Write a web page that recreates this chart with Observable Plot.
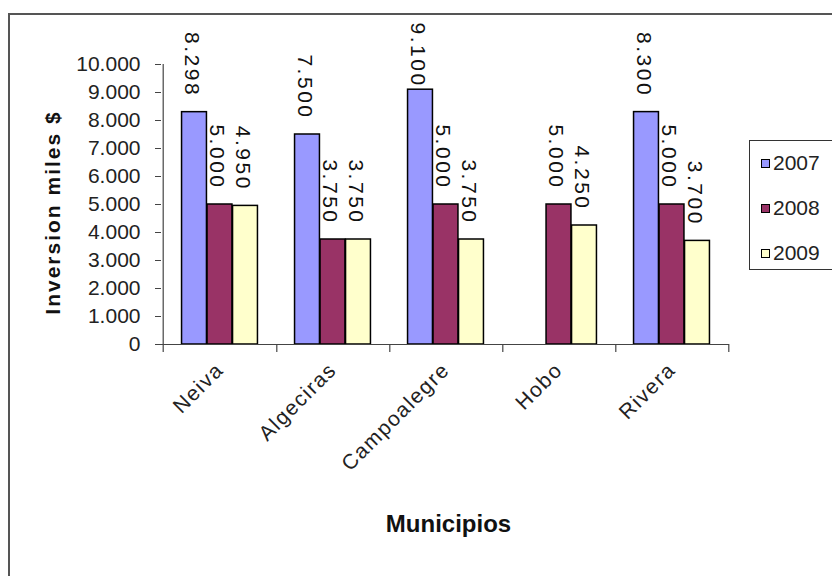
<!DOCTYPE html>
<html>
<head>
<meta charset="utf-8">
<script src="https://cdn.jsdelivr.net/npm/d3@7"></script>
<script src="https://cdn.jsdelivr.net/npm/@observablehq/plot@0.6"></script>
<style>
  html, body { margin: 0; padding: 0; background: #fff; }
  #wrap { position: relative; width: 832px; height: 576px; overflow: hidden; font-family: "Liberation Sans", Arial, sans-serif; }
  #frame { position: absolute; left: 8px; top: 13px; right: -20px; bottom: -20px; border-left: 2px solid #555; border-top: 2px solid #555; pointer-events: none; }
  #legend { position: absolute; left: 749px; top: 140px; width: 110px; height: 128px; border: 1.5px solid #333; background: #fff; }
  .item { position: absolute; left: 11px; height: 24px; display: flex; align-items: center; font-size: 21px; color: #222; }
  .sw { display: inline-block; width: 7px; height: 7px; border: 1.5px solid #000; margin-right: 3px; }
  g[aria-label="text"] text { letter-spacing: 2.5px; }
  g[aria-label="text"][font-weight="bold"] text { letter-spacing: 2px; }
  g[aria-label="text"][font-weight="bold"][font-size="24"] text { letter-spacing: 0px; }
  g[aria-label="x-axis tick label"] text { letter-spacing: 1.5px; }
</style>
</head>
<body>
<div id="wrap">
  <div id="chart"></div>
  <div id="frame"></div>
  <div id="legend"></div>
</div>
<script>
const municipios = ["Neiva", "Algeciras", "Campoalegre", "Hobo", "Rivera"];
const years = ["2007", "2008", "2009"];
const v2007 = [8298, 7500, 9100, null, 8300];
const v2008 = [5000, 3750, 5000, 5000, 5000];
const v2009 = [4950, 3750, 3750, 4250, 3700];
const yearColors = ["#9999FF", "#993366", "#FFFFCC"];
const yTicks = [0, 1000, 2000, 3000, 4000, 5000, 6000, 7000, 8000, 9000, 10000];
const xTitle = "Municipios";
const yTitle = "Inversion miles $";

const series = [v2007, v2008, v2009];
const rows = [];
years.forEach((yr, j) => {
  municipios.forEach((m, i) => {
    if (series[j][i] != null) rows.push({municipio: m, year: yr, value: series[j][i]});
  });
});

const loc = d3.formatLocale({decimal: ",", thousands: ".", grouping: [3], currency: ["$", ""]});
const fmt = loc.format(",");

const W = 832, H = 576;
const mL = 161, mR = 103, mT = 64, mB = 232;
const step = (W - mL - mR) / municipios.length;
const barW = 25.5;
const inset = (step - barW) / 2;
const offs = [-barW, 0, barW];
// labels that would run off the top of the chart are pushed down (as the spreadsheet does)
const labelCap = 8640;

const marks = [];
years.forEach((yr, j) => {
  const d = rows.filter(r => r.year === yr);
  marks.push(Plot.barY(d, {x: "municipio", y: "value", fill: yearColors[j], stroke: "#000", strokeWidth: 1.5,
    insetLeft: inset, insetRight: inset, dx: offs[j]}));
  marks.push(Plot.text(d, {x: "municipio", y: r => Math.min(r.value, labelCap), text: r => fmt(r.value), rotate: 90, textAnchor: "end",
    lineAnchor: "middle", dx: offs[j] - 3, dy: -15, fontSize: 21, fill: "#111"}));
});

const plot = Plot.plot({
  width: W, height: H,
  marginLeft: mL, marginRight: mR, marginTop: mT, marginBottom: mB,
  style: {fontFamily: "'Liberation Sans', Arial, sans-serif", background: "transparent", color: "#222"},
  x: {type: "band", domain: municipios, padding: 0, label: null, axis: null},
  y: {domain: [0, 10000], label: null, axis: null},
  marks: [
    ...marks,
    Plot.ruleY([0], {stroke: "#444", strokeWidth: 1.2}),
    Plot.ruleX([municipios[0]], {x: d => d, y1: () => 10000, y2: () => 0, dx: -step / 2, insetBottom: -8, stroke: "#444", strokeWidth: 1.2}),
    Plot.ruleX(municipios, {x: d => d, y: () => 0, dx: step / 2, insetBottom: -8, stroke: "#444", strokeWidth: 1.2}),
    Plot.axisY({ticks: yTicks, tickFormat: fmt, tickSize: 6, tickPadding: 15, fontSize: 21, stroke: "#444", label: null}),
    Plot.axisX({tickRotate: -45, tickSize: 0, tickPadding: 22, fontSize: 21, label: null}),
    Plot.text([xTitle], {text: d => d, frameAnchor: "bottom", textAnchor: "middle", dx: 3, dy: 187, fontWeight: "bold", fontSize: 24, fill: "#111"}),
    Plot.text([yTitle], {text: d => d, frameAnchor: "left", textAnchor: "middle", rotate: -90, dx: -108, dy: 8, fontWeight: "bold", fontSize: 21, fill: "#111"})
  ]
});
document.getElementById("chart").appendChild(plot);

const legend = document.getElementById("legend");
years.forEach((yr, j) => {
  const it = document.createElement("div");
  it.className = "item";
  it.style.top = (10 + j * 45) + "px";
  const sw = document.createElement("span");
  sw.className = "sw";
  sw.style.background = yearColors[j];
  it.appendChild(sw);
  it.appendChild(document.createTextNode(yr));
  legend.appendChild(it);
});
</script>
</body>
</html>
